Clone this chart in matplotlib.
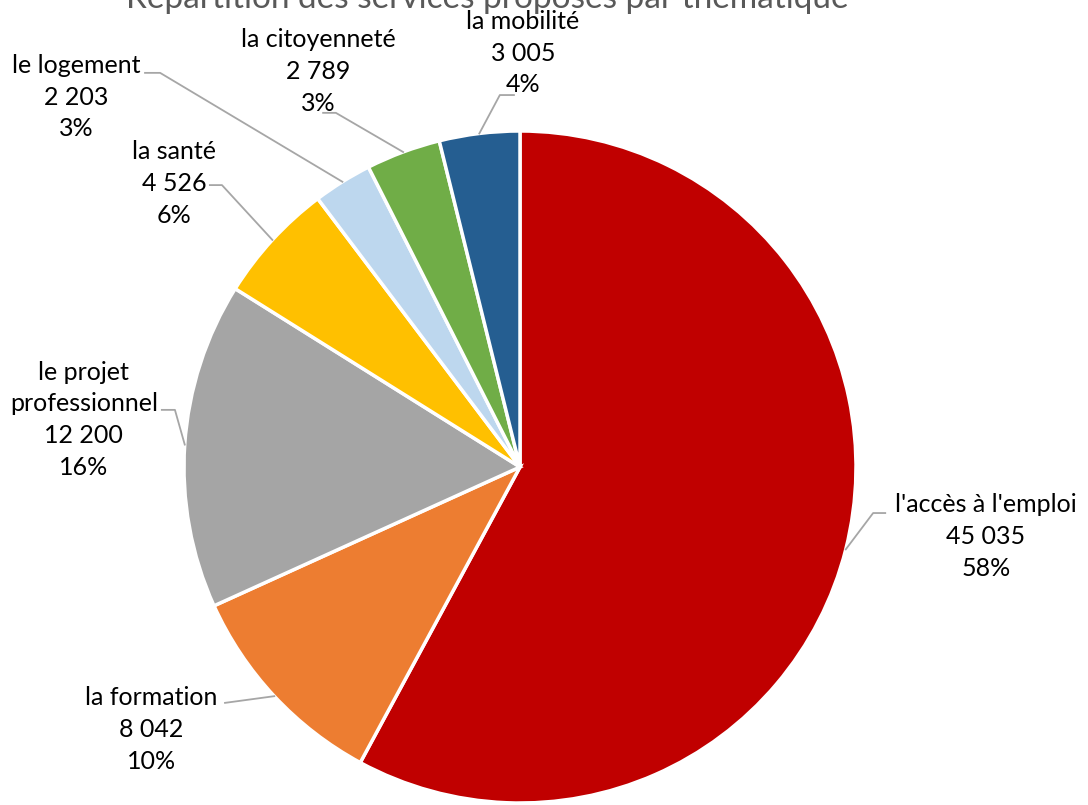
import numpy as np
import matplotlib.pyplot as plt

plt.rcParams['font.family'] = ['Lato', 'DejaVu Sans']

categories = ["l'accès à l'emploi", "la formation", "le projet\nprofessionnel",
              "la santé", "le logement", "la citoyenneté", "la mobilité"]
values = [45035, 8042, 12200, 4526, 2203, 2789, 3005]
value_labels = ["45 035", "8 042", "12 200", "4 526", "2 203", "2 789", "3 005"]
pct_labels = ["58%", "10%", "16%", "6%", "3%", "3%", "4%"]
colors = ["#C00000", "#ED7D31", "#A5A5A5", "#FFC000", "#BDD7EE", "#70AD47", "#255E91"]

# label placement (radius units), leader elbow points
text_pos = [(1.387, -0.208), (-1.098, -0.780), (-1.298, 0.140), (-1.030, 0.845),
            (-1.321, 1.101), (-0.601, 1.178), (0.009, 1.232)]
elbows = [[(1.051, -0.137), (1.087, -0.137)],
          [(-0.878, -0.702)],
          [(-1.027, 0.170), (-1.066, 0.170)],
          [(-0.887, 0.839), (-0.923, 0.839)],
          [(-1.071, 1.173), (-1.116, 1.173)],
          [(-0.548, 1.054), (-0.586, 1.054)],
          [(-0.060, 1.107), (-0.018, 1.107)]]

fig = plt.figure(figsize=(10.88, 8.05), dpi=100)
ax = fig.add_axes([0, 0, 1, 1])
wedges, _ = ax.pie(values, colors=colors, startangle=90, counterclock=False,
                   wedgeprops=dict(edgecolor='white', linewidth=2.5))
ax.set_xlim(-520 / 336, 568 / 336)
ax.set_ylim(-338 / 336, 467 / 336)
ax.set_aspect('equal')
ax.axis('off')

total = sum(values)
cum = 0
for i, v in enumerate(values):
    mid = 90 - (cum + v / 2) / total * 360
    cum += v
    ex, ey = np.cos(np.radians(mid)), np.sin(np.radians(mid))
    pts = [(ex, ey)] + elbows[i]
    ax.plot([p[0] for p in pts], [p[1] for p in pts], color='#A6A6A6', lw=1.3,
            clip_on=False)
    ax.text(text_pos[i][0], text_pos[i][1],
            f"{categories[i]}\n{value_labels[i]}\n{pct_labels[i]}",
            ha='center', va='center', fontsize=18, linespacing=1.47,
            color='#000000')

fig.text(0.448, 0.99, "Répartition des services proposés par thématique",
         ha='center', va='baseline', fontsize=24, color='#595959')

fig.savefig('out.png', dpi=100)
